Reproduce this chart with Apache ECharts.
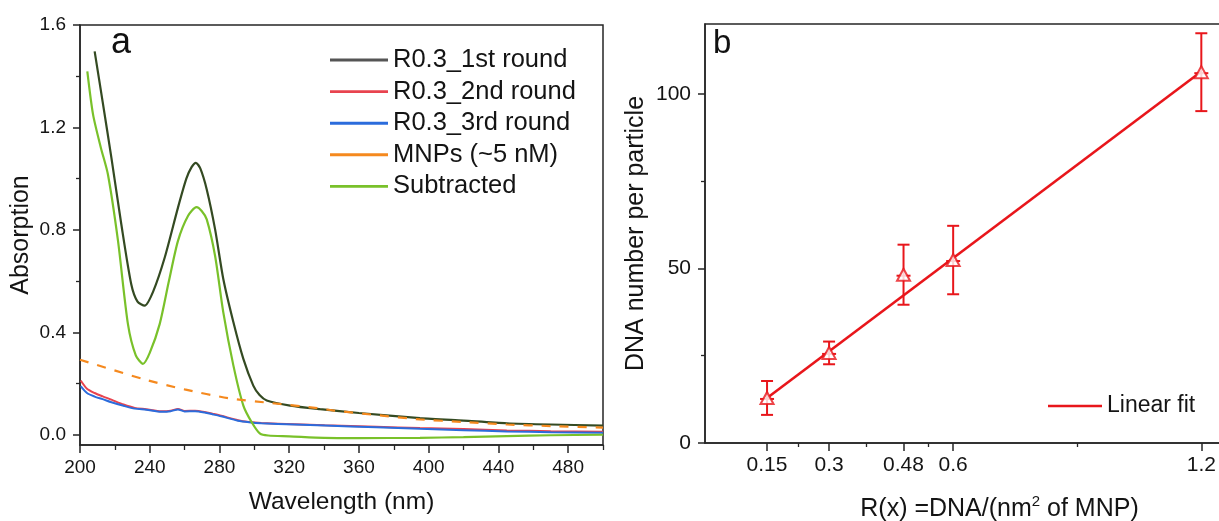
<!DOCTYPE html>
<html><head><meta charset="utf-8">
<script src="https://cdn.jsdelivr.net/npm/echarts@6/dist/echarts.min.js"></script>
<style>html,body{margin:0;padding:0;background:#fff}#c{width:1219px;height:521px}</style>
</head><body><div id="c"></div>
<script>
// ---------- Panel a: UV-Vis spectra ----------
const round1Wl  = [208.4,213,218,223.7,229.4,233,237.1,242,248.6,256.2,261,264,266.5,269,272.7,277.5,282.2,288,293.7,299.4,303,307.1,320.5,337.7,360,395,420,444.8,470,500];
const round1Abs = [1.497,1.30,1.082,0.822,0.588,0.52,0.504,0.56,0.692,0.887,1.0,1.045,1.062,1.04,0.958,0.802,0.608,0.439,0.296,0.192,0.155,0.134,0.114,0.100,0.085,0.065,0.055,0.045,0.040,0.036];

const round2Wl  = [200.4,204,208.4,213,218,225,231.4,238,246.6,252,256.2,260,266,271.5,276,281,290.6,297,304,323.2,340.4,370,395,420,444.8,470,500];
const round2Abs = [0.212,0.18,0.163,0.15,0.137,0.118,0.105,0.1,0.092,0.094,0.101,0.093,0.094,0.089,0.082,0.074,0.057,0.05,0.046,0.041,0.037,0.031,0.026,0.022,0.017,0.014,0.012];

const round3Wl  = [200.4,204,208.4,213,218,225,231.4,238,246.6,252,256.2,260,266,271.5,276,281,290.6,297,304,323.2,340.4,370,395,420,444.8,470,500];
const round3Abs = [0.19,0.163,0.149,0.139,0.127,0.113,0.102,0.098,0.09,0.092,0.099,0.091,0.092,0.087,0.08,0.072,0.055,0.049,0.045,0.04,0.036,0.029,0.023,0.018,0.013,0.01,0.008];

const mnpWl  = [200,236,260,285,308,336,345,370,395,420,445,470,500];
const mnpAbs = [0.293,0.218,0.177,0.143,0.125,0.104,0.095,0.077,0.06,0.05,0.04,0.034,0.028];

const subWl  = [204.2,207.5,212,216,221.8,227.5,232,236.1,240,245.7,251,256.2,262,266.8,269.8,272.7,277.5,282.2,288,293.7,298.5,303.3,308,320,340,360,395,420,444.8,470,500];
const subAbs = [1.419,1.25,1.12,1.017,0.757,0.432,0.31,0.277,0.32,0.432,0.6,0.757,0.855,0.889,0.874,0.841,0.698,0.478,0.27,0.114,0.049,0.004,-0.003,-0.006,-0.012,-0.013,-0.012,-0.009,-0.005,-0.002,0.0];

const aXTicks = [200,240,280,320,360,400,440,480];
const aXMinor = [220,260,300,340,380,420,460,500];
const aYTicks = [0,0.4,0.8,1.2,1.6];
const aYMinor = [0.2,0.6,1.0,1.4];

const seriesNames = ['R0.3_1st round','R0.3_2nd round','R0.3_3rd round','MNPs (~5 nM)','Subtracted'];

// ---------- Panel b: DNA loading ----------
const ratioX   = [0.15,0.3,0.48,0.6,1.2];
const dnaY     = [12.9,25.8,48.2,52.4,106.2];
const dnaErr   = [4.85,3.25,8.6,9.8,11.15];
const fitX     = [0.15,1.2];
const fitY     = [12.9,106.4];
const bXTicks  = [0.15,0.3,0.48,0.6,1.2];
const bXMinor  = [0.225,0.39,0.54,0.9];
const bYTicks  = [0,50,100];
const bYMinor  = [25,75];

const zip = (a,b) => a.map((v,i)=>[v,b[i]]);
const FONT = '"Liberation Sans", Arial, sans-serif';
const TXT = '#141414';
const AX = '#262626';
const RED = '#e8161b';

const chart = echarts.init(document.getElementById('c'));

function mainAxis(extra, fs, margin, ticks, tickLen, fmt){
  const base = {
    type:'value',
    axisLine:{show:true,onZero:false,lineStyle:{color:AX,width:1.5}},
    axisTick:{show:true,length:tickLen,customValues:ticks,lineStyle:{color:AX,width:1.5}},
    axisLabel:{fontFamily:FONT,fontSize:fs,color:TXT,margin:margin,customValues:ticks},
    splitLine:{show:false}
  };
  if (fmt) base.axisLabel.formatter = fmt;
  return Object.assign(base, extra);
}
function minorAxis(gridIndex, min, max, pos, vals, len){
  return {type:'value',gridIndex,min,max,position:pos,
    axisLine:{show:false,onZero:false},
    axisLabel:{show:false},
    axisTick:{show:true,length:len,customValues:vals,lineStyle:{color:AX,width:1.3}},
    splitLine:{show:false}};
}

const lineColors = ['#344a22','#e8434f','#2b6cdc','#f5891e','#79c12a'];
const legendColors = ['#555555','#e8434f','#2b6cdc','#f5891e','#79c12a'];
const BAR = 'path://M0,0L60,0L60,3L0,3Z';

const option = {
  animation:false,
  backgroundColor:'#fff',
  grid:[
    {left:80,top:25,width:523,height:420,show:true,borderColor:AX,borderWidth:1.5,backgroundColor:'transparent',outerBoundsMode:'none',containLabel:false},
    {left:705,top:24,width:517,height:419,show:true,borderColor:AX,borderWidth:1.5,backgroundColor:'transparent',outerBoundsMode:'none',containLabel:false}
  ],
  xAxis:[
    mainAxis({gridIndex:0,min:200,max:500,position:'bottom',
      name:'Wavelength (nm)',nameLocation:'middle',nameGap:45,
      nameTextStyle:{fontFamily:FONT,fontSize:24.5,color:TXT}}, 19, 13, aXTicks, 8),
    minorAxis(0,200,500,'bottom',aXMinor,5),
    mainAxis({gridIndex:1,min:0,max:1.25,position:'bottom',
      name:'{a|R(x) =DNA/(nm}{s|2}{a| of MNP)}',nameLocation:'middle',nameGap:51,
      nameTextStyle:{fontFamily:FONT,fontSize:25,color:TXT,padding:[0,0,0,72],
        rich:{a:{fontFamily:FONT,fontSize:25,color:TXT,verticalAlign:'bottom'},
              s:{fontFamily:FONT,fontSize:15,color:TXT,verticalAlign:'bottom',padding:[0,0,13,0]}}}},
      21, 12, bXTicks, 8, v=>String(v)),
    minorAxis(1,0,1.25,'bottom',bXMinor,4)
  ],
  yAxis:[
    mainAxis({gridIndex:0,min:-0.04,max:1.6,position:'left',
      name:'Absorption',nameLocation:'middle',nameGap:46,
      nameTextStyle:{fontFamily:FONT,fontSize:25,color:TXT}}, 19, 14, aYTicks, 7, v=>v.toFixed(1)),
    minorAxis(0,-0.04,1.6,'left',aYMinor,4),
    mainAxis({gridIndex:1,min:0,max:120,position:'left',
      name:'DNA number per particle',nameLocation:'middle',nameGap:56,
      nameTextStyle:{fontFamily:FONT,fontSize:25,color:TXT}}, 21, 14, bYTicks, 7),
    minorAxis(1,0,120,'left',bYMinor,4)
  ],
  legend:[
    {orient:'vertical',left:330,top:47,padding:0,itemWidth:58,itemHeight:14,itemGap:5.6,
      textStyle:{fontFamily:FONT,fontSize:25.5,color:TXT,lineHeight:26},
      data:seriesNames.map((n,i)=>({name:n,icon:BAR,itemStyle:{color:legendColors[i]}}))},
    {orient:'vertical',left:1048,top:394,padding:0,itemWidth:54,itemHeight:14,
      textStyle:{fontFamily:FONT,fontSize:23,color:TXT,lineHeight:24},
      data:[{name:'Linear fit',icon:BAR,itemStyle:{color:RED}}]}
  ],
  graphic:[
    {type:'text',left:111,top:25,style:{text:'a',fontFamily:FONT,fontSize:36,fill:'#111'}},
    {type:'text',left:713,top:27,style:{text:'b',fontFamily:FONT,fontSize:33,fill:'#111'}}
  ],
  series:[
    {name:seriesNames[0],type:'line',xAxisIndex:0,yAxisIndex:0,data:zip(round1Wl,round1Abs),
      showSymbol:false,symbol:'none',smooth:0.25,lineStyle:{color:lineColors[0],width:2.2},itemStyle:{color:lineColors[0]},z:3},
    {name:seriesNames[1],type:'line',xAxisIndex:0,yAxisIndex:0,data:zip(round2Wl,round2Abs),
      showSymbol:false,symbol:'none',smooth:0.25,lineStyle:{color:lineColors[1],width:2},itemStyle:{color:lineColors[1]},z:2},
    {name:seriesNames[2],type:'line',xAxisIndex:0,yAxisIndex:0,data:zip(round3Wl,round3Abs),
      showSymbol:false,symbol:'none',smooth:0.25,lineStyle:{color:lineColors[2],width:2},itemStyle:{color:lineColors[2]},z:2},
    {name:seriesNames[3],type:'line',xAxisIndex:0,yAxisIndex:0,data:zip(mnpWl,mnpAbs),
      showSymbol:false,symbol:'none',smooth:0.25,lineStyle:{color:lineColors[3],width:2.2,type:[9,9]},itemStyle:{color:lineColors[3]},z:4},
    {name:seriesNames[4],type:'line',xAxisIndex:0,yAxisIndex:0,data:zip(subWl,subAbs),
      showSymbol:false,symbol:'none',smooth:0.25,lineStyle:{color:lineColors[4],width:2.2},itemStyle:{color:lineColors[4]},z:3},

    {name:'Linear fit',type:'line',xAxisIndex:2,yAxisIndex:2,data:zip(fitX,fitY),
      showSymbol:false,symbol:'none',lineStyle:{color:RED,width:2.6},itemStyle:{color:RED},z:2},
    {name:'errors',type:'custom',xAxisIndex:2,yAxisIndex:2,
      data:ratioX.map((x,i)=>[x,dnaY[i],dnaErr[i]]),
      renderItem:function(params,api){
        const x=api.value(0),y=api.value(1),e=api.value(2);
        const t=api.coord([x,y+e]),b=api.coord([x,y-e]),c=api.coord([x,y]);
        const st={stroke:RED,lineWidth:2};
        const hw=6;
        return {type:'group',children:[
          {type:'line',shape:{x1:t[0],y1:t[1],x2:b[0],y2:b[1]},style:st},
          {type:'line',shape:{x1:t[0]-hw,y1:t[1],x2:t[0]+hw,y2:t[1]},style:st},
          {type:'line',shape:{x1:b[0]-hw,y1:b[1],x2:b[0]+hw,y2:b[1]},style:st},
          {type:'line',shape:{x1:c[0]-7,y1:c[1]+1,x2:c[0]+7,y2:c[1]+1},style:st}
        ]};
      },z:3},
    {name:'points',type:'scatter',xAxisIndex:2,yAxisIndex:2,data:zip(ratioX,dnaY),
      symbol:'emptyTriangle',symbolSize:[13,12],itemStyle:{color:RED,borderColor:RED,borderWidth:1.6},z:4}
  ]
};
chart.setOption(option);
</script>
</body></html>
